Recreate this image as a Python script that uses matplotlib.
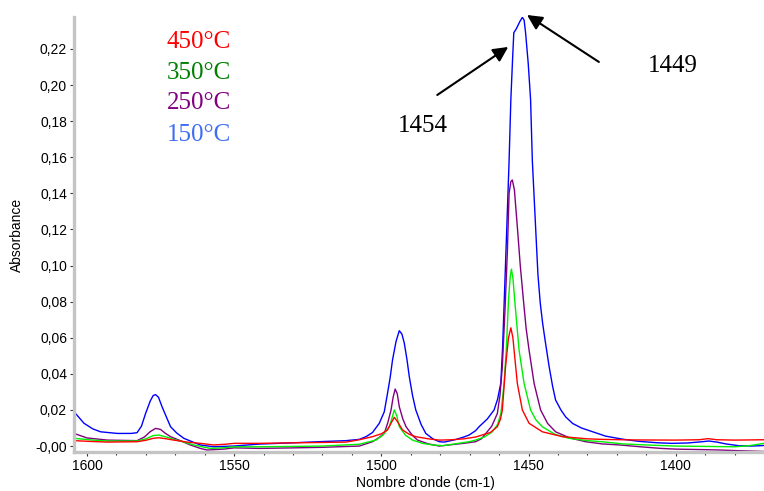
import matplotlib
matplotlib.use("Agg")
import matplotlib.pyplot as plt
from matplotlib.ticker import MultipleLocator, FixedLocator, FixedFormatter

# --- Spectra (wavenumber cm-1, absorbance) ---

wn_150 = [1604.4, 1601, 1598, 1595.4, 1589.7, 1585, 1583, 1581.5, 1580.1, 1578.5,
          1577.5, 1576.7, 1575.7, 1574.5, 1573, 1571.6, 1569.5, 1567.1, 1564, 1561.5,
          1557, 1550.2, 1541.4, 1530, 1520, 1512, 1507.5, 1505.2, 1503, 1500.7,
          1499, 1497.9, 1497, 1496.2, 1495, 1493.9, 1493, 1492.2, 1491.3, 1490.5,
          1489.4, 1488.3, 1486.5, 1484.9, 1482.5, 1480.3, 1478.6, 1475, 1472, 1470.2,
          1468, 1466.8, 1464, 1461.7, 1460.5, 1459.4, 1458.8, 1458.3, 1457.4, 1456.6,
          1456, 1455.4, 1455, 1454.2, 1453, 1452.1, 1451.5, 1451, 1450.1, 1449.3,
          1448.7, 1447.6, 1446.8, 1446.0, 1445.2, 1444.4, 1443, 1441.8, 1440.8, 1439,
          1437.4, 1435, 1432, 1428, 1423.8, 1418, 1412.5, 1406, 1401.4, 1396,
          1391, 1388.8, 1386, 1383, 1378.6, 1374, 1370]
abs_150 = [0.019, 0.0126, 0.0095, 0.0079, 0.0070, 0.0070, 0.0074, 0.011, 0.018, 0.025,
           0.028, 0.0285, 0.027, 0.0218, 0.016, 0.0107, 0.0072, 0.0043, 0.0022, 0.0006,
           -0.0004, 0.0, 0.0011, 0.0018, 0.0025, 0.003, 0.0037, 0.0052, 0.0075, 0.0126,
           0.019, 0.0292, 0.038, 0.0477, 0.058, 0.0639, 0.062, 0.057, 0.048, 0.0384,
           0.028, 0.020, 0.012, 0.007, 0.0040, 0.0024, 0.0022, 0.0035, 0.0050, 0.0061,
           0.0085, 0.0107, 0.015, 0.020, 0.026, 0.035, 0.055, 0.078, 0.12, 0.158,
           0.192, 0.215, 0.229, 0.231, 0.235, 0.2375, 0.236, 0.229, 0.212, 0.192,
           0.158, 0.1215, 0.095, 0.079, 0.068, 0.059, 0.044, 0.033, 0.0255, 0.020,
           0.0162, 0.0125, 0.0100, 0.0078, 0.0055, 0.0038, 0.0026, 0.0018, 0.0015, 0.0017,
           0.0024, 0.0028, 0.0022, 0.0012, 0.0002, 0.0, 0.0003]

wn_250 = [1604.4, 1600, 1593, 1583, 1580.5, 1578.5, 1576.7, 1575, 1573.5, 1571.6,
          1568, 1564.9, 1561.5, 1559.2, 1553.6, 1550, 1541.4, 1530, 1520, 1507.5,
          1503, 1501, 1499, 1497.8, 1496.7, 1496, 1495.3, 1494.6, 1493.9, 1492.7,
          1491.6, 1489.5, 1487.7, 1484, 1480.3, 1476, 1472, 1468, 1466, 1464.5,
          1462.5, 1460.6, 1459.7, 1458.9, 1458, 1457.2, 1456.6, 1456, 1455.5, 1454.8,
          1453.8, 1452.8, 1451.8, 1450.8, 1449.8, 1448.1, 1445.9, 1443.5, 1440.8, 1436,
          1430.6, 1425, 1419, 1412, 1405, 1400, 1390, 1385, 1378, 1370]
abs_250 = [0.007, 0.0045, 0.0033, 0.0030, 0.0050, 0.0080, 0.0098, 0.0092, 0.0072, 0.0052,
           0.0028, 0.0006, -0.0013, -0.0022, -0.0017, -0.0010, -0.0013, -0.0010, -0.0007, 0.0,
           0.0024, 0.0045, 0.007, 0.013, 0.020, 0.027, 0.0316, 0.029, 0.0218, 0.015,
           0.0107, 0.0060, 0.0033, 0.0012, 0.0, 0.0008, 0.0015, 0.0024, 0.0040, 0.007,
           0.011, 0.018, 0.028, 0.044, 0.075, 0.107, 0.140, 0.1465, 0.1474, 0.142,
           0.1215, 0.100, 0.082, 0.065, 0.053, 0.0347, 0.020, 0.0125, 0.0079, 0.0045,
           0.0024, 0.0012, 0.0006, -0.0004, -0.0013, -0.0017, -0.0020, -0.0022, -0.0026, -0.003]

wn_350 = [1604.4, 1598, 1593, 1583, 1580, 1577.5, 1575.6, 1573, 1570.5, 1567,
          1563.7, 1560, 1558, 1554, 1550, 1541.4, 1530, 1520, 1507.5, 1501.8,
          1499.5, 1497.3, 1496.3, 1495.6, 1494.8, 1493.9, 1491.8, 1489.4, 1486, 1482.6,
          1479, 1475, 1470.2, 1468, 1465, 1462.3, 1460.5, 1459.4, 1458.3, 1457.5,
          1456.8, 1456.2, 1455.8, 1455.3, 1454.7, 1453.2, 1451.5, 1449.3, 1447.5, 1445.3,
          1441, 1436.3, 1430, 1425, 1418, 1410, 1400, 1390, 1380, 1375, 1370]
abs_350 = [0.0043, 0.0033, 0.0028, 0.0028, 0.0040, 0.0058, 0.0061, 0.0050, 0.0037, 0.0022,
           0.0006, -0.0007, -0.0013, -0.0010, -0.0004, -0.0004, -0.0002, 0.0, 0.0010, 0.0033,
           0.0060, 0.0107, 0.016, 0.020, 0.017, 0.0107, 0.0060, 0.0033, 0.0015, 0.0006,
           0.0002, 0.0012, 0.0024, 0.0033, 0.0050, 0.0079, 0.012, 0.018, 0.0347, 0.055,
           0.081, 0.094, 0.098, 0.093, 0.081, 0.053, 0.0347, 0.020, 0.0145, 0.0107,
           0.0065, 0.0043, 0.0030, 0.0024, 0.0012, 0.0006, 0.0, -0.0002, -0.0004, 0.0002, 0.0015]

wn_450 = [1604.4, 1598, 1593, 1583, 1580, 1577.5, 1575.6, 1573, 1570.5, 1566,
          1561.5, 1557, 1553, 1550, 1541.4, 1530, 1520, 1512, 1507.5, 1503,
          1500, 1497.9, 1496.6, 1495.6, 1494.5, 1492.8, 1490.5, 1488.3, 1484, 1480.3,
          1476, 1472, 1468, 1463, 1460.6, 1459.5, 1458.9, 1457.8, 1456.8, 1456,
          1455.3, 1454.9, 1453.8, 1452.1, 1449.8, 1445.3, 1438.5, 1430, 1425, 1415,
          1400, 1392, 1389, 1386, 1380, 1370]
abs_450 = [0.0030, 0.0025, 0.0022, 0.0024, 0.0032, 0.0043, 0.0046, 0.0040, 0.0033, 0.0022,
           0.0015, 0.0006, 0.0010, 0.0015, 0.0015, 0.0018, 0.0020, 0.0022, 0.0035, 0.0052,
           0.0068, 0.0089, 0.013, 0.0159, 0.0135, 0.0089, 0.0065, 0.0052, 0.0040, 0.0033,
           0.0035, 0.0040, 0.0050, 0.0075, 0.0107, 0.015, 0.020, 0.044, 0.060, 0.0655,
           0.060, 0.053, 0.0347, 0.020, 0.0126, 0.0079, 0.0052, 0.0040, 0.0037, 0.0034,
           0.0033, 0.0035, 0.0041, 0.0035, 0.0033, 0.0035]

labels = ["450°C", "350°C", "250°C", "150°C"]
line_colors = ["#ff0000", "#00ee00", "#800080", "#0000ff"]
text_colors = ["#ff0000", "#008000", "#800080", "#3f6df5"]

y_ticks = [0.00, 0.02, 0.04, 0.06, 0.08, 0.10, 0.12, 0.14, 0.16, 0.18, 0.20, 0.22]
y_tick_labels = ["-0,00", "0,02", "0,04", "0,06", "0,08", "0,10",
                 "0,12", "0,14", "0,16", "0,18", "0,20", "0,22"]
x_ticks = [1600, 1550, 1500, 1450, 1400]

# --- Figure ---

plt.rcParams['font.family'] = ['Liberation Sans', 'DejaVu Sans']
fig = plt.figure(figsize=(7.64, 4.91), dpi=100)
ax = fig.add_axes([0.0969, 0.0794, 0.9031, 0.886])

ax.plot(wn_150, abs_150, color=line_colors[3], lw=1.0)
ax.plot(wn_250, abs_250, color=line_colors[2], lw=1.0)
ax.plot(wn_350, abs_350, color=line_colors[1], lw=1.0)
ax.plot(wn_450, abs_450, color=line_colors[0], lw=1.0)

ax.set_xlim(1604.4, 1370)
ax.set_ylim(-0.0033, 0.2377)

ax.xaxis.set_major_locator(FixedLocator(x_ticks))
ax.xaxis.set_minor_locator(MultipleLocator(10))
ax.yaxis.set_major_locator(FixedLocator(y_ticks))
ax.yaxis.set_major_formatter(FixedFormatter(y_tick_labels))

for side in ["top", "right"]:
    ax.spines[side].set_visible(False)
for side in ["left", "bottom"]:
    ax.spines[side].set_color("#c4c4c4")
    ax.spines[side].set_linewidth(2.4)

ax.tick_params(axis="both", which="major", length=3, width=0.8, color="#333333",
               labelsize=10, pad=2)
ax.tick_params(axis="x", which="minor", length=2.5, width=0.8, color="#333333")

ax.set_xlabel("Nombre d'onde (cm-1)", fontsize=10)
ax.xaxis.set_label_coords(0.509, -0.056)
ax.set_ylabel("Absorbance", fontsize=10)
ax.yaxis.set_label_coords(-0.0725, 0.5)

# temperature labels
label_y = [0.2240, 0.2068, 0.1902, 0.1724]
for txt, col, yy in zip(labels, text_colors, label_y):
    ax.text(1551.2, yy, txt, color=col, fontsize=18, family="Liberation Serif",
            ha="right", va="center")

# peak annotations
arrow = dict(arrowstyle="-|>,head_length=0.9,head_width=0.45", color="black", lw=1.5,
             shrinkA=0, shrinkB=0)
ax.annotate("", xy=(1456.9, 0.2211), xytext=(1481.0, 0.1945), arrowprops=arrow,
            annotation_clip=False)
ax.annotate("", xy=(1450.5, 0.2388), xytext=(1426.1, 0.2128), arrowprops=arrow,
            annotation_clip=False)
ax.text(1486.0, 0.1773, "1454", fontsize=18, family="Liberation Serif",
        ha="center", va="center")
ax.text(1401.0, 0.2105, "1449", fontsize=18, family="Liberation Serif",
        ha="center", va="center")

fig.savefig("out.png", dpi=100)
